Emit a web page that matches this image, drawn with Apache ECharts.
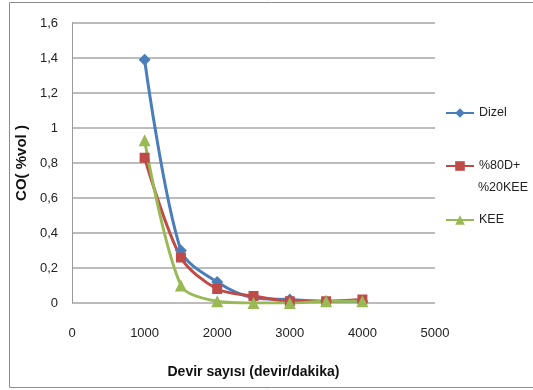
<!DOCTYPE html>
<html>
<head>
<meta charset="utf-8">
<script src="https://cdn.jsdelivr.net/npm/echarts@6/dist/echarts.min.js"></script>
<style>
  html, body { margin: 0; padding: 0; background: #fff; }
  #chart { width: 533px; height: 390px; }
</style>
</head>
<body>
<div id="chart"></div>
<script>
// Engine speed (rpm) and CO emissions (% vol) for each fuel
const rpm = [1000, 1500, 2000, 2500, 3000, 3500, 4000];
const dizel = [1.39, 0.30, 0.12, 0.03, 0.02, 0.01, 0.01];
const blend = [0.83, 0.26, 0.08, 0.04, 0.01, 0.01, 0.02];
const kee = [0.93, 0.10, 0.01, 0.00, 0.00, 0.01, 0.01];
const seriesNames = ['Dizel', '%80D+ %20KEE', 'KEE'];
const yTicks = [0, 0.2, 0.4, 0.6, 0.8, 1, 1.2, 1.4, 1.6];

const FONT = '"Liberation Sans", "DejaVu Sans", sans-serif';
const pairs = (ys) => rpm.map((x, i) => [x, ys[i]]);

const chart = echarts.init(document.getElementById('chart'));

function lineSeries(name, values, color, symbol, size) {
  return {
    name: name,
    type: 'line',
    data: pairs(values),
    smooth: 0.3,
    symbol: symbol,
    symbolSize: size,
    lineStyle: { color: color, width: 3 },
    itemStyle: { color: color },
    emphasis: { disabled: true }
  };
}

const legendText = { fontFamily: FONT, fontSize: 12.5, color: '#222', lineHeight: 22 };

// one legend block per series so each entry sits at its own height;
// the two-word blend name wraps, its first word stays beside the icon
function legendAt(name, top, formatter) {
  const l = {
    data: [name],
    orient: 'vertical',
    left: 440,
    top: top,
    itemWidth: 28,
    itemHeight: 12,
    itemGap: 3,
    textStyle: legendText
  };
  if (formatter) l.formatter = formatter;
  return l;
}

const blendWords = seriesNames[1].split(' ');

chart.setOption({
  backgroundColor: '#fff',
  animation: false,
  graphic: [
    {
      type: 'rect',
      shape: { x: 9.5, y: 2.5, width: 540, height: 385 },
      style: { fill: 'none', stroke: '#8c8c8c', lineWidth: 1 },
      silent: true
    },
    {
      type: 'text',
      left: 478,
      top: 181,
      style: {
        text: blendWords[1],
        font: '12.5px ' + FONT,
        fill: '#222'
      },
      silent: true
    }
  ],
  legend: [
    legendAt(seriesNames[0], 97),
    legendAt(seriesNames[1], 150, () => blendWords[0]),
    legendAt(seriesNames[2], 204)
  ],
  grid: { left: 72, right: 98, top: 23, bottom: 87, containLabel: false },
  xAxis: {
    type: 'value',
    min: 0,
    max: 5000,
    interval: 1000,
    name: 'Devir sayısı (devir/dakika)',
    nameLocation: 'middle',
    nameGap: 62,
    nameTextStyle: { fontFamily: FONT, fontSize: 14, fontWeight: 'bold', color: '#111' },
    axisLine: { show: false },
    axisTick: { show: false },
    splitLine: { show: false },
    axisLabel: {
      fontFamily: FONT,
      fontSize: 13,
      color: '#222',
      margin: 24,
      formatter: (v) => String(v)
    }
  },
  yAxis: {
    type: 'value',
    min: 0,
    max: 1.6,
    interval: 0.2,
    name: 'CO( %vol )',
    nameLocation: 'middle',
    nameGap: 43,
    nameTextStyle: { fontFamily: FONT, fontSize: 15, fontWeight: 'bold', color: '#111' },
    axisLine: { show: true, lineStyle: { color: '#9a9a9a', width: 1 } },
    axisTick: { show: false },
    splitLine: { show: true, lineStyle: { color: '#a6a6a6', width: 1.5 } },
    axisLabel: {
      fontFamily: FONT,
      fontSize: 13,
      color: '#222',
      margin: 14,
      formatter: (v) => {
        const t = yTicks.find((k) => Math.abs(k - v) < 1e-9);
        return String(t !== undefined ? t : v).replace('.', ',');
      }
    }
  },
  series: [
    lineSeries(seriesNames[0], dizel, '#4a7ebb', 'diamond', 12),
    lineSeries(seriesNames[1], blend, '#be4b48', 'rect', 10),
    lineSeries(seriesNames[2], kee, '#98b954', 'triangle', 12)
  ]
});
</script>
</body>
</html>
